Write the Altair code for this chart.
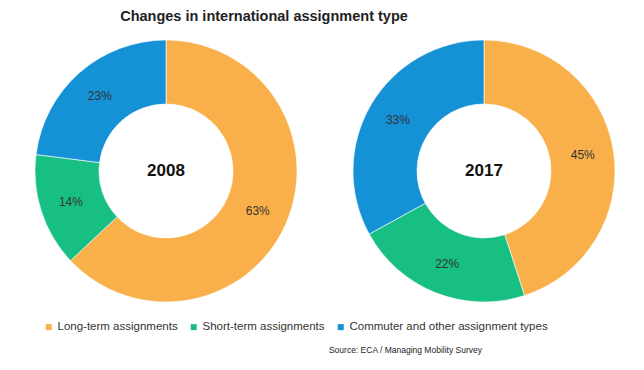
import math
import altair as alt
import pandas as pd

categories = ["Long-term assignments", "Short-term assignments", "Commuter and other assignment types"]
years = ["2008", "2017"]
values_2008 = [63, 14, 23]
values_2017 = [45, 22, 33]
colors = ["#F9B04B", "#17BF82", "#1591D6"]
title_text = "Changes in international assignment type"
source_text = "Source: ECA / Managing Mobility Survey"

rows = []
for yr, vals in zip(years, [values_2008, values_2017]):
    for i, (c, v) in enumerate(zip(categories, vals)):
        rows.append({"year": yr, "category": c, "value": v, "order": i, "label": f"{v}%"})
df = pd.DataFrame(rows)

W, H = 628, 354
CY = 163

xscale = alt.Scale(type="point", domain=years, range=[158, 476], padding=0)
tscale = alt.Scale(domain=[0, 100], range=[0, 2 * math.pi])

color = alt.Color(
    "category:N",
    scale=alt.Scale(domain=categories, range=colors),
    legend=alt.Legend(
        title=None, orient="none", legendX=35, legendY=313, direction="horizontal",
        symbolType="square", symbolSize=36, symbolStrokeWidth=0,
        labelFont="Liberation Sans", labelFontSize=11.5, labelColor="#333333",
        labelOffset=3, columnPadding=10, labelLimit=400,
    ),
)

base = alt.Chart(df).transform_stack(
    stack="value", groupby=["year"], as_=["v0", "v1"],
    sort=[alt.SortField("order", order="ascending")],
).transform_calculate(mid="(datum.v0 + datum.v1) / 2")

arcs = base.mark_arc(outerRadius=131, innerRadius=67, stroke="white", strokeWidth=0.6).encode(
    x=alt.X("year:N", scale=xscale, axis=None),
    y=alt.value(CY),
    theta=alt.Theta("v0:Q", scale=tscale),
    theta2="v1:Q",
    color=color,
)

labels = base.mark_text(radius=100, fontSize=12, font="Liberation Sans", color="#333333").encode(
    x=alt.X("year:N", scale=xscale, axis=None),
    y=alt.value(CY),
    theta=alt.Theta("mid:Q", scale=tscale),
    text="label:N",
)

center = alt.Chart(pd.DataFrame({"year": years})).mark_text(
    fontSize=17, fontWeight="bold", font="Liberation Sans", color="#111111", baseline="middle"
).encode(
    x=alt.X("year:N", scale=xscale, axis=None),
    y=alt.value(CY),
    text="year:N",
)

title = alt.Chart(pd.DataFrame({"t": [title_text]})).mark_text(
    fontSize=14.5, fontWeight="bold", font="Liberation Sans", color="#222222",
    baseline="middle", align="center",
).encode(text="t:N", x=alt.value(256), y=alt.value(9))

source = alt.Chart(pd.DataFrame({"t": [source_text]})).mark_text(
    fontSize=8.5, font="Liberation Sans", color="#222222", align="right", baseline="middle",
).encode(text="t:N", x=alt.value(474), y=alt.value(342))

chart = alt.layer(arcs, labels, center, title, source).properties(
    width=W, height=H, padding=0, autosize=alt.AutoSizeParams(type="none"),
).configure_view(stroke=None)

chart.save("out.html", embed_options={"renderer": "svg", "actions": False})
